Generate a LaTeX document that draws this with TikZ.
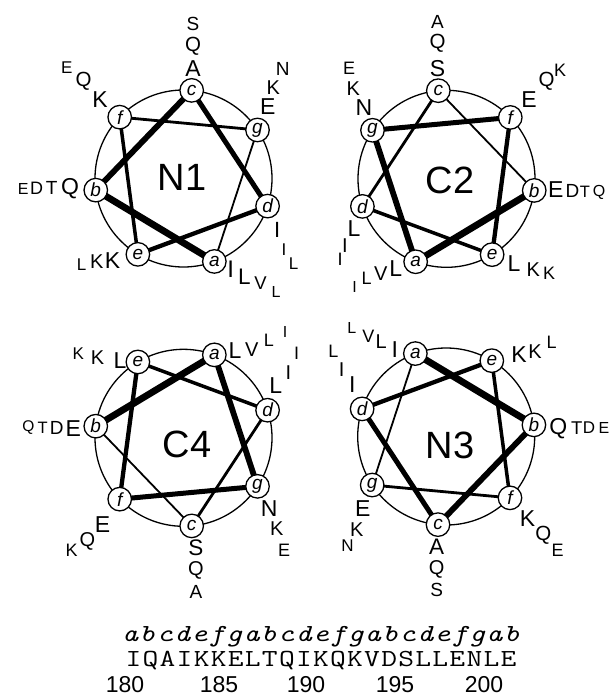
\documentclass[tikz,border=0pt]{standalone}
\usepackage{fontspec}
\setmainfont{Liberation Sans}
\usetikzlibrary{calc,backgrounds}

% typewriter text with a fixed extra gap after each letter
\makeatletter
\newcommand\spreadtext[2]{\@tfor\ch:=#2\do{\ch\kern#1}\unkern}
\makeatother

\tikzset{
  seatnode/.style={circle, draw, fill=white, line width=1.3pt, minimum size=23.5pt,
    inner sep=0pt, font=\fontsize{19}{19}\selectfont\itshape},
  rim/.style={line width=1.3pt},
  title/.style={inner sep=0pt, font=\fontsize{38}{38}\selectfont},
  res/.style={inner sep=0pt, font=\fontsize{#1}{#1}\selectfont},
  seqline/.style={anchor=base, inner sep=0pt},
  w1/.style={line width=6.8pt},
  w2/.style={line width=5.8pt},
  w3/.style={line width=5.0pt},
  w4/.style={line width=4.3pt},
  w5/.style={line width=3.5pt},
  w6/.style={line width=2.8pt},
  w7/.style={line width=1.8pt},
}

% one helical wheel: name, centre x, centre y, angle of a, step per residue
\newcommand{\helixwheel}[5]{%
  \coordinate (#1) at (#2,#3);
  \foreach \p [count=\k from 0] in {a,b,c,d,e,f,g}
    \node[seatnode] (#1\p) at ($(#1)+({#4+(#5)*\k}:88.5)$) {\p};
  \begin{scope}[on background layer]
    \draw[rim] (#1) circle[radius=88.5pt];
  \end{scope}
}
% links for a wheel read a -> g
\newcommand{\forwardlinks}[1]{%
  \begin{scope}[on background layer]
    \draw[w1] (#1a.center) -- (#1b.center);
    \draw[w2] (#1b.center) -- (#1c.center);
    \draw[w3] (#1c.center) -- (#1d.center);
    \draw[w4] (#1d.center) -- (#1e.center);
    \draw[w5] (#1e.center) -- (#1f.center);
    \draw[w6] (#1f.center) -- (#1g.center);
    \draw[w7] (#1g.center) -- (#1a.center);
  \end{scope}
}
% links for a wheel read b -> a -> g ...
\newcommand{\reverselinks}[1]{%
  \begin{scope}[on background layer]
    \draw[w1] (#1b.center) -- (#1a.center);
    \draw[w2] (#1a.center) -- (#1g.center);
    \draw[w3] (#1g.center) -- (#1f.center);
    \draw[w4] (#1f.center) -- (#1e.center);
    \draw[w5] (#1e.center) -- (#1d.center);
    \draw[w6] (#1d.center) -- (#1c.center);
    \draw[w7] (#1c.center) -- (#1b.center);
  \end{scope}
}

\begin{document}
\begin{tikzpicture}[x=1pt, y=-1pt]
\useasboundingbox (0,0) rectangle (613,699);
\begin{scope}[on background layer]
  \fill[white] (0,0) rectangle (613,699);
\end{scope}

\helixwheel{N1}{183.5}{178.5}{69.6}{102.857}
\helixwheel{C2}{446.5}{178.8}{110.4}{-102.857}
\helixwheel{C4}{183.5}{437.8}{-69.6}{-102.857}
\helixwheel{N3}{446.2}{436.5}{249.6}{102.857}

\forwardlinks{N1}
\reverselinks{C2}
\reverselinks{C4}
\forwardlinks{N3}

\node[title] (N1t) at (182,177) {N1};
\node[title] (C2t) at (450,180) {C2};
\node[title] (C4t) at (187,444) {C4};
\node[title] (N3t) at (450,445) {N3};

% residues, innermost (largest) first
\foreach \nm/\x/\y/\s/\t in {
  N1c1/193/69/23/A, N1c2/193/46/20.5/Q, N1c3/193/24/19/S,
  N1f1/100/99.5/23/K, N1f2/83.5/81.7/20.5/Q, N1f3/66.7/67.5/17/E,
  N1g1/267.7/106.7/23/E, N1g2/273.3/87.5/20/K, N1g3/282.7/68.5/19/N,
  N1b1/70/188.3/23/Q, N1b2/51.7/188.3/19/T, N1b3/36.7/188.5/18/D, N1b4/23.3/188.5/16/E,
  N1d1/277.3/229.5/22/I, N1d2/284/249.5/17/I, N1d3/293.5/264/17/L,
  N1a1/230.7/269/24/I, N1a2/244.5/276.5/22.5/L, N1a3/260.5/283.5/18.5/V, N1a4/276/292/16/L,
  N1e1/112.5/260.8/23/K, N1e2/96.7/261.7/20/K, N1e3/81.7/265/17/L,
  C2c1/437.5/68.3/23/S, C2c2/437.5/43.3/20.5/Q, C2c3/437.5/21.7/19/A,
  C2g1/364/107.5/23/N, C2g2/353.3/89/20/K, C2g3/349/68.3/18/E,
  C2f1/529/100/23/E, C2f2/546.7/81.7/20.5/Q, C2f3/560/70/18/K,
  C2b1/555.8/190/23/E, C2b2/572.5/191.2/19/D, C2b3/585/191.7/16.5/T, C2b4/599/192.5/16/Q,
  C2d1/354/229/23/L, C2d2/345/246/20/I, C2d3/340/259/18/I,
  C2a1/395.8/268.3/23/L, C2a2/380.8/273.3/20/V, C2a3/366.7/278.3/18/L, C2a4/354.7/286.7/16/I,
  C2e1/514/264/23/L, C2e2/533.3/270/20/K, C2e3/549/273.3/18/K,
  C4a1/235/350.8/23/L, C4a2/251.7/350/20/V, C4a3/269/340/18/L, C4a4/285/331.7/16/I,
  C4d1/275.8/386/23/L, C4d2/288.3/372.5/20/I, C4d3/296.7/353.3/18/I,
  C4g1/269.2/508.3/23/N, C4g2/276.7/529/20/K, C4g3/284.2/550.8/18/E,
  C4c1/196/548/22.5/S, C4c2/196/570.5/20/Q, C4c3/196/592/19/A,
  C4f1/102.5/525/23/E, C4f2/87.5/541.7/20/Q, C4f3/71.7/550/18/K,
  C4b1/73.3/428.3/23/E, C4b2/56.7/428.3/19/D, C4b3/42.7/428/16.5/T, C4b4/28.3/428/15.5/Q,
  C4e1/120/360.8/23/L, C4e2/97.5/357.5/20/K, C4e3/78.3/353.3/17/K,
  N3a1/394.7/349.2/23/I, N3a2/381.3/341.7/20/L, N3a3/368.3/336.7/18/V, N3a4/351.7/328.3/16/L,
  N3d1/352.3/385/23/I, N3d2/341.7/369.2/20/I, N3d3/333.3/351.7/18/L,
  N3g1/362.8/508.3/23/E, N3g2/356.7/530/20/K, N3g3/347.5/545.8/17/N,
  N3c1/436.7/546.3/22.5/A, N3c2/436.7/569/20/Q, N3c3/436.7/589.5/19/S,
  N3f1/527.5/518.3/23/K, N3f2/543.3/535/20.5/Q, N3f3/557.5/550/18/E,
  N3b1/558.3/428.3/23/Q, N3b2/576.7/428/18.5/T, N3b3/589/428/17/D, N3b4/604/428/16/E,
  N3e1/519/355/23/K, N3e2/535/351.7/20/K, N3e3/551.7/342.5/18/L}
  \node[res=\s] (\nm) at (\x,\y) {\t};

% heptad register, sequence and numbering (wide typewriter letters)
\node[seqline, font=\ttfamily\itshape\fontsize{24.5}{26}\selectfont] (heptads)
  at (321,641.7) {\scalebox{1.25}[1]{\spreadtext{1.02pt}{abcdefgabcdefgabcdefgab}}};
\node[seqline, font=\ttfamily\fontsize{24.5}{26}\selectfont] (sequence)
  at (321,666.7) {\scalebox{1.25}[1]{\spreadtext{1.02pt}{IQAIKKELTQIKQKVDSLLENLE}}};
\foreach \nm/\x/\t in {n180/125/180, n185/219/185, n190/306/190, n195/395/195, n200/484/200}
  \node[anchor=base, inner sep=0pt, font=\fontsize{23}{23}\selectfont] (\nm) at (\x,692) {\t};
\end{tikzpicture}
\end{document}
